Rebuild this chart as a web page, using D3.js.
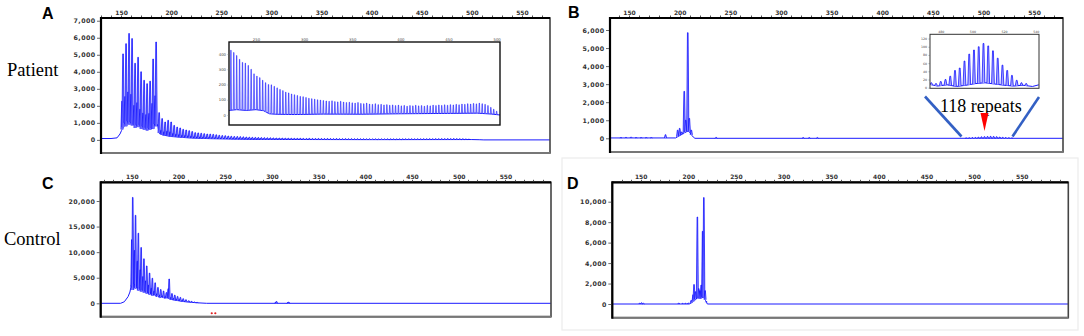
<!DOCTYPE html>
<html><head><meta charset="utf-8">
<script src="https://cdn.jsdelivr.net/npm/d3@7"></script>
<style>body{margin:0;background:#fff}svg{display:block}</style>
</head><body>
<svg id="c" width="1084" height="336"></svg>
<script>
// ---------------- DATA ----------------
const xTickLabels = [150, 200, 250, 300, 350, 400, 450, 500, 550];
const aYTicks = [0, 1000, 2000, 3000, 4000, 5000, 6000, 7000];
const bYTicks = [0, 1000, 2000, 3000, 4000, 5000, 6000];
const cYTicks = [0, 5000, 10000, 15000, 20000];
const dYTicks = [0, 2000, 4000, 6000, 8000, 10000];
const aInsetXTicks = [250, 300, 350, 400, 450, 500];
const aInsetYTicks = [0, 100, 200, 300, 400];
const bInsetXTicks = [480, 500, 520, 540];
const bInsetYTicks = [0, 20, 40, 60, 80, 100, 120];

// Patient A: CGG repeat ladder, first peak at 152 bp, one peak per repeat (3 bp)
const patientStart = 152, repeatUnit = 3;
const patientHeights = [
  5050, 5650, 6250, 5950, 4500, 4850, 4000, 3500, 3300, 3450, 4750, 5750,
  1600, 1250, 1050, 1150, 1050, 850, 750, 700, 620, 580, 540, 490,
  425, 410, 390, 365, 345, 340, 325, 300, 270, 255,
  245, 228, 212, 200, 198, 188, 178, 168, 160, 150,
  145, 138, 133, 128, 122, 120, 115, 110, 107, 104,
  100, 98, 95, 92, 90, 93, 88, 86, 90, 85,
  82, 84, 80, 78, 82, 76, 74, 78, 72, 70,
  74, 68, 70, 66, 68, 64, 66, 62, 65, 60,
  63, 58, 62, 60, 64, 60, 62, 58, 63, 60,
  65, 62, 66, 63, 67, 64, 68, 66, 70, 67,
  72, 70, 74, 72, 76, 73, 78, 74, 70, 62,
  50, 38, 25];
const aBaseX = [130, 140, 146, 149, 150.5, 152, 153.5, 155, 156.5, 158, 159.5, 161, 162.5, 164, 165.5, 167, 168.5, 170, 171.5, 173, 174.5, 176, 177.5, 179, 180.5, 182, 183.5, 185, 186.5, 188, 191, 195, 200, 210, 220, 240, 270, 300, 400, 500, 508, 512, 578];
const aBaseY = [80, 80, 120, 350, 550, 750, 1100, 800, 1200, 900, 1150, 850, 1000, 700, 950, 750, 1000, 650, 900, 600, 800, 550, 750, 600, 700, 650, 1000, 800, 900, 400, 300, 250, 200, 150, 110, 70, 40, 25, 15, 20, 10, 0, 0];
const aInBaseX = [222, 230, 240, 250, 258, 264, 270, 290, 320, 360, 400, 440, 480, 495, 503.5];
const aInBaseY = [30, 35, 30, 35, 28, 8, 5, 3, 6, 5, 8, 10, 12, 6, 0];

// Patient B
const bPeakPos = [142, 147, 152, 157, 162, 167, 172, 186, 198, 200, 202, 204.5, 206, 208, 209.5, 211.5, 236, 322, 328, 336];
const bPeakHeight = [40, 50, 70, 40, 40, 40, 40, 200, 450, 550, 350, 2600, 1000, 5850, 1100, 450, 50, 40, 40, 40];
const bBaseX = [131.2, 196, 199, 203, 206, 209, 212, 215, 578.5];
const bBaseY = [20, 20, 120, 250, 350, 400, 150, 0, 0];
const bExpStart = 474;
const bExpHeights = [12, 10, 15, 20, 28, 42, 48, 65, 82, 92, 100, 108, 102, 90, 72, 55, 42, 30, 18, 12, 10];
const bInBaseX = [473, 478, 484, 490, 496, 502, 508, 514, 520, 526, 532, 538, 542];
const bInBaseY = [8, 4, 7, 3, 6, 10, 12, 9, 6, 4, 6, 3, 7];

// Control C
const cStart = 151;
const cHeights = [20700, 17200, 13700, 10900, 8700, 7300, 5900, 4900, 4000, 3100, 2700, 2400, 2100, 4750, 1900, 1600, 1350, 1150, 900, 700, 500, 380, 260, 170, 100, 60];
const cBaseX = [116.7, 138, 142, 146, 148, 149.5, 151, 152.5, 154, 155.5, 157, 158.5, 160, 161.5, 163, 164.5, 166, 167.5, 169, 170.5, 172, 174, 176, 178, 180, 182, 185, 188, 191, 195, 200, 205, 210, 220, 230, 598.8];
const cBaseY = [0, 0, 300, 1300, 2200, 3600, 2600, 4200, 2900, 3600, 2500, 3200, 2300, 2900, 2100, 2600, 1900, 2300, 1700, 2100, 1500, 1800, 1300, 1500, 1100, 1300, 1000, 1100, 800, 650, 500, 350, 250, 100, 0, 0];
const cExtraPos = [305, 318];
const cExtraHeight = [350, 250];
const cMarkerPos = [235.6, 239.4];
const cMarkerValue = -1950;

// Control D
const dPeakPos = [149, 151, 153, 190, 194, 197, 200, 203, 205, 206, 207.5, 209.5, 211, 212.2, 213.5, 215, 216.3, 217.6, 219];
const dPeakHeight = [80, 120, 60, 90, 70, 80, 100, 350, 900, 1900, 1200, 8500, 1500, 1300, 1850, 7100, 10400, 1300, 250];
const dBaseX = [120.2, 201, 204, 207, 210, 213, 216, 218, 220, 598.9];
const dBaseY = [0, 0, 150, 450, 600, 550, 700, 350, 0, 0];

// ---------------- DRAWING ----------------
const svg = d3.select('#c');
const BLUE = '#0000ff', FILL = '#8c8cff';
let clipId = 0;

function baseAt(xs, ys, v) {
  if (v <= xs[0]) return ys[0];
  if (v >= xs[xs.length - 1]) return ys[ys.length - 1];
  const i = d3.bisectRight(xs, v);
  const t = (v - xs[i - 1]) / (xs[i] - xs[i - 1]);
  return ys[i - 1] + t * (ys[i] - ys[i - 1]);
}

function drawTrace(g, x, y, baseX, baseY, peaks, opts) {
  g.append('path')
    .attr('d', d3.line().x((d, i) => x(baseX[i])).y(d => y(d))(baseY))
    .attr('fill', 'none').attr('stroke', '#1a1aff').attr('stroke-width', opts.lw || 1);
  const spikes = [];
  peaks.forEach(p => {
    if (opts.stutter) spikes.push({pos: p.pos - 1, h: p.h * opts.stutter});
    spikes.push(p);
  });
  g.selectAll(null).data(spikes).join('path')
    .attr('d', d => {
      const px = x(d.pos), b = y(baseAt(baseX, baseY, d.pos)), t = y(d.h);
      if (t >= b - 0.3) return null;
      const hw = opts.hw;
      return `M${px - hw},${b}L${px - hw * 0.3},${t}L${px + hw * 0.3},${t}L${px + hw},${b}`;
    })
    .attr('fill', opts.fill || FILL).attr('stroke', BLUE).attr('stroke-width', opts.sw || 0.7)
    .attr('stroke-linejoin', 'round');
}

function makeClip(x0, y0, w, h) {
  const id = 'clip' + (clipId++);
  svg.append('clipPath').attr('id', id).append('rect')
    .attr('x', x0).attr('y', y0).attr('width', w).attr('height', h);
  return 'url(#' + id + ')';
}

function panel(cfg) {
  const x = d3.scaleLinear().domain(cfg.xd).range(cfg.xr);
  const y = d3.scaleLinear().domain(cfg.yd).range(cfg.yr);
  const [L, R] = cfg.xr, [B, T] = cfg.yr;
  const g = svg.append('g');
  const inner = g.append('g').attr('clip-path', makeClip(L, T, R - L, B - T));
  cfg.draw(inner, x, y);
  g.append('rect').attr('x', L).attr('y', T).attr('width', R - L).attr('height', B - T)
    .attr('fill', 'none').attr('stroke', '#444').attr('stroke-width', 1.6);
  g.append('line').attr('x1', L).attr('x2', R).attr('y1', B).attr('y2', B)
    .attr('stroke', '#777').attr('stroke-width', 2);
  g.append('line').attr('x1', L).attr('x2', L).attr('y1', T - 1).attr('y2', B + 1)
    .attr('stroke', '#000').attr('stroke-width', 2.2);
  g.append('line').attr('x1', L).attr('x2', R).attr('y1', T).attr('y2', T)
    .attr('stroke', '#000').attr('stroke-width', 2.2);
  const minor = d3.range(Math.ceil(cfg.xd[0] / 10) * 10, cfg.xd[1], 10);
  g.selectAll(null).data(minor).join('line')
    .attr('x1', d => Math.round(x(d)) + 0.5).attr('x2', d => Math.round(x(d)) + 0.5)
    .attr('y1', T - 1).attr('y2', T - 2.5)
    .attr('stroke', '#555').attr('stroke-width', 1);
  const top = g.append('g').attr('transform', `translate(0,${T - 3.5})`)
    .call(d3.axisTop(x).tickValues(xTickLabels).tickSize(0).tickPadding(0));
  top.select('.domain').remove();
  top.selectAll('text').attr('font-family', 'DejaVu Sans, Verdana, sans-serif')
    .attr('font-size', 6).attr('font-weight', 'bold').attr('fill', '#333').attr('dy', 0);
  const left = g.append('g').attr('transform', `translate(${L - 1},0)`)
    .call(d3.axisLeft(y).tickValues(cfg.yTicks).tickFormat(d3.format(',')).tickSize(3).tickPadding(1.5));
  left.select('.domain').remove();
  left.selectAll('line').attr('stroke', '#444').attr('stroke-width', 0.8);
  left.selectAll('text').attr('font-family', 'DejaVu Sans, Verdana, sans-serif')
    .attr('font-size', 6.3).attr('font-weight', 'bold').attr('fill', '#333')
    .attr('letter-spacing', 0.4);
  return {x, y, g};
}

function inset(cfg) {
  const x = d3.scaleLinear().domain(cfg.xd).range(cfg.xr);
  const y = d3.scaleLinear().domain(cfg.yd).range(cfg.yr);
  const [L, R] = cfg.xr, [B, T] = cfg.yr;
  const g = svg.append('g');
  g.append('rect').attr('x', L).attr('y', T).attr('width', R - L).attr('height', B - T).attr('fill', '#fff');
  const inner = g.append('g').attr('clip-path', makeClip(L, T, R - L, B - T));
  cfg.draw(inner, x, y);
  g.append('rect').attr('x', L).attr('y', T).attr('width', R - L).attr('height', B - T)
    .attr('fill', 'none').attr('stroke', cfg.frame || '#222').attr('stroke-width', cfg.fw || 1.2);
  const top = g.append('g').attr('transform', `translate(0,${T - 1.5})`)
    .call(d3.axisTop(x).tickValues(cfg.xTicks).tickSize(0).tickPadding(0));
  top.select('.domain').remove();
  top.selectAll('text').attr('font-family', 'DejaVu Sans, sans-serif').attr('font-size', cfg.fs)
    .attr('fill', '#444');
  const left = g.append('g').attr('transform', `translate(${L},0)`)
    .call(d3.axisLeft(y).tickValues(cfg.yTicks).tickSize(1.5).tickPadding(1.5));
  left.select('.domain').remove();
  left.selectAll('line').attr('stroke', '#666').attr('stroke-width', 0.5);
  left.selectAll('text').attr('font-family', 'DejaVu Sans, sans-serif').attr('font-size', cfg.fs)
    .attr('fill', '#444');
}

const patientPeaks = patientHeights.map((h, i) => ({pos: patientStart + i * repeatUnit, h}));
const bExpPeaks = bExpHeights.map((h, i) => ({pos: bExpStart + i * repeatUnit, h}));
const bMainPeaks = bPeakPos.map((p, i) => ({pos: p, h: bPeakHeight[i]})).concat(bExpPeaks);
const cPeaks = cHeights.map((h, i) => ({pos: cStart + i * repeatUnit, h}));
const cExtra = cExtraPos.map((p, i) => ({pos: p, h: cExtraHeight[i]}));
const dPeaks = dPeakPos.map((p, i) => ({pos: p, h: dPeakHeight[i]}));

// faint border around panel D
svg.append('rect').attr('x', 562).attr('y', 158).attr('width', 516).attr('height', 172)
  .attr('fill', 'none').attr('stroke', '#ececec').attr('stroke-width', 1.2);

// Panel A
panel({xd: [130, 578], xr: [101, 550], yd: [-770, 7160], yr: [153, 18], yTicks: aYTicks,
  draw: (g, x, y) => drawTrace(g, x, y, aBaseX, aBaseY, patientPeaks, {hw: 1.1, stutter: 0.45})});
inset({xd: [222, 503.5], xr: [229, 500], yd: [-65.6, 478.7], yr: [125, 42],
  xTicks: aInsetXTicks, yTicks: aInsetYTicks, fs: 3.8, fw: 1.4, frame: '#111',
  draw: (g, x, y) => drawTrace(g, x, y, aInBaseX, aInBaseY,
    patientPeaks.filter(p => p.pos > 222), {hw: 0.6, sw: 0.5, fill: '#b0b0ff'})});

// Panel B
panel({xd: [131.2, 578.5], xr: [610, 1063], yd: [-759, 6665], yr: [152, 18], yTicks: bYTicks,
  draw: (g, x, y) => drawTrace(g, x, y, bBaseX, bBaseY, bMainPeaks, {hw: 1.1})});
inset({xd: [473.2, 542.1], xr: [930, 1039], yd: [-1.5, 130.4], yr: [88.3, 34.3],
  xTicks: bInsetXTicks, yTicks: bInsetYTicks, fs: 3.2, fw: 1, frame: '#333',
  draw: (g, x, y) => drawTrace(g, x, y, bInBaseX, bInBaseY, bExpPeaks, {hw: 1.4, sw: 0.7, fill: '#a8a8ff'})});

const conn = [[925, 96.5, 961.5, 136.5], [1039, 97, 1012.5, 136.5]];
svg.selectAll(null).data(conn).join('line')
  .attr('x1', d => d[0]).attr('y1', d => d[1]).attr('x2', d => d[2]).attr('y2', d => d[3])
  .attr('stroke', '#3360c4').attr('stroke-width', 2.6);
svg.append('text').attr('x', 940).attr('y', 111.5).text('118 repeats')
  .attr('font-family', 'Liberation Serif, Times New Roman, serif').attr('font-size', 18).attr('fill', '#000');
svg.append('path').attr('d', 'M980.5,113L988.5,113L984.5,131Z').attr('fill', '#ff0000');

// Panel C
panel({xd: [116.7, 598.8], xr: [100.7, 551], yd: [-2620, 23656], yr: [316.7, 182.3], yTicks: cYTicks,
  draw: (g, x, y) => {
    drawTrace(g, x, y, cBaseX, cBaseY, cPeaks.concat(cExtra), {hw: 1.0, stutter: 0.6});
    g.selectAll(null).data(cMarkerPos).join('circle')
      .attr('cx', d => x(d)).attr('cy', y(cMarkerValue)).attr('r', 1.1).attr('fill', '#e02020');
  }});

// Panel D
panel({xd: [120.2, 598.9], xr: [612.3, 1068.3], yd: [-1339, 11896], yr: [317.7, 182.3], yTicks: dYTicks,
  draw: (g, x, y) => drawTrace(g, x, y, dBaseX, dBaseY, dPeaks, {hw: 1.0})});

const letters = [['A', 42, 18.5], ['B', 568, 17.5], ['C', 42, 189], ['D', 567, 189]];
svg.selectAll(null).data(letters).join('text')
  .attr('x', d => d[1]).attr('y', d => d[2]).text(d => d[0])
  .attr('font-family', 'Liberation Sans, Arial, sans-serif').attr('font-weight', 'bold')
  .attr('font-size', 16).attr('fill', '#000');
const rowLabels = [['Patient', 7, 76], ['Control', 4, 245]];
svg.selectAll(null).data(rowLabels).join('text')
  .attr('x', d => d[1]).attr('y', d => d[2]).text(d => d[0])
  .attr('font-family', 'Liberation Serif, Times New Roman, serif')
  .attr('font-size', 18.5).attr('fill', '#000');
</script>
</body></html>
